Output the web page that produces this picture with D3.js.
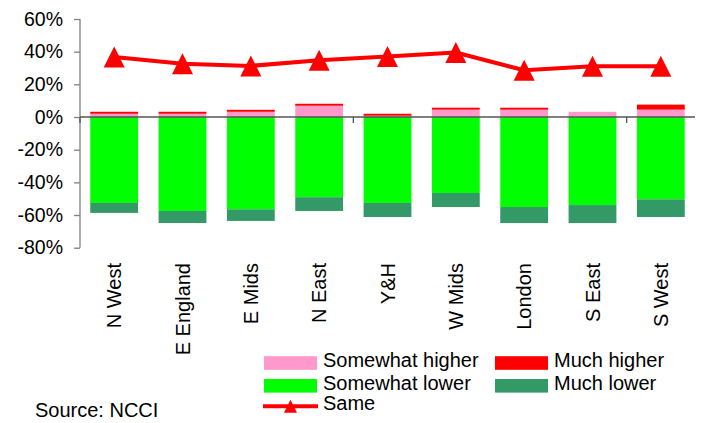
<!DOCTYPE html>
<html>
<head>
<meta charset="utf-8">
<script src="https://cdn.jsdelivr.net/npm/d3@7"></script>
<style>
html,body{margin:0;padding:0;background:#fff;}
svg{display:block;font-family:"Liberation Sans",Arial,sans-serif;}
</style>
</head>
<body>
<svg id="chart" width="701" height="423"></svg>
<script>
const categories = ["N West","E England","E Mids","N East","Y&H","W Mids","London","S East","S West"];
const somewhatHigher = [2.0, 2.0, 3.2, 6.9, 0.8, 4.5, 4.5, 3.2, 4.5];
const muchHigher     = [1.2, 1.2, 1.2, 1.2, 1.2, 1.2, 1.2, 0.0, 3.1];
const somewhatLower  = [-52.6, -57.5, -56.5, -49.1, -52.6, -46.5, -55.1, -53.9, -50.4];
const muchLower      = [-6.1, -7.4, -7.1, -8.4, -8.6, -8.6, -9.8, -11.0, -10.8];
const same           = [36.7, 32.6, 31.3, 34.7, 37.1, 39.5, 28.6, 31.1, 31.1];
const yTicks = [60, 40, 20, 0, -20, -40, -60, -80];
const seriesNames = ["Somewhat higher","Much higher","Somewhat lower","Much lower","Same"];
const colors = {"Somewhat higher":"#FF99CC","Much higher":"#FF0000","Somewhat lower":"#00FF00","Much lower":"#339966","Same":"#FF0000"};

const svg = d3.select("#chart");
const x = d3.scaleBand().domain(categories).range([80, 695]).paddingInner(0.3).paddingOuter(0.15);
const y = d3.scaleLinear().domain([-80, 60]).range([247.7, 19]);

// bars
const g = svg.append("g");
categories.forEach((c, i) => {
  const segs = [
    {name:"Somewhat higher", y0:0, y1:somewhatHigher[i]},
    {name:"Much higher", y0:somewhatHigher[i], y1:somewhatHigher[i]+muchHigher[i]},
    {name:"Somewhat lower", y0:0, y1:somewhatLower[i]},
    {name:"Much lower", y0:somewhatLower[i], y1:somewhatLower[i]+muchLower[i]}
  ];
  segs.forEach(s => {
    if (s.y0 === s.y1) return;
    g.append("rect")
      .attr("x", x(c)).attr("width", x.bandwidth())
      .attr("y", y(Math.max(s.y0, s.y1)))
      .attr("height", Math.abs(y(s.y0) - y(s.y1)))
      .attr("fill", colors[s.name]);
  });
});

// y axis
const yAxis = d3.axisLeft(y).tickValues(yTicks).tickSize(6).tickFormat(d => d + "%");
const ya = svg.append("g").attr("transform", "translate(80,0)").call(yAxis);
ya.select(".domain").attr("stroke", "#808080").attr("stroke-width", 1.3).attr("d", `M0,${y(60)}V${y(-80)}`);
ya.selectAll(".tick line").attr("stroke", "#808080").attr("stroke-width", 1.3);
ya.selectAll(".tick text").attr("x", -17).attr("font-size", "19.5px").attr("fill", "#000")
  .attr("font-family", '"Liberation Sans",Arial,sans-serif');

// zero line (category axis)
svg.append("line").attr("x1", 80).attr("x2", 695).attr("y1", y(0)).attr("y2", y(0))
  .attr("stroke", "#555").attr("stroke-width", 1.5);
[0, 4, 8].forEach(k => {
  const xx = 80 + k * x.step();
  svg.append("line").attr("x1", xx).attr("x2", xx).attr("y1", y(0)).attr("y2", y(0) + 6)
    .attr("stroke", "#555").attr("stroke-width", 1.3);
});

// category labels
categories.forEach(c => {
  const cx = x(c) + x.bandwidth() / 2;
  svg.append("text")
    .attr("transform", `translate(${cx + 7},263) rotate(-90)`)
    .attr("text-anchor", "end")
    .attr("font-size", "20px")
    .attr("fill", "#000")
    .text(c);
});

// Same line
const line = d3.line().x((d, i) => x(categories[i]) + x.bandwidth() / 2).y(d => y(d));
svg.append("path").datum(same).attr("d", line).attr("fill", "none")
  .attr("stroke", colors["Same"]).attr("stroke-width", 4).attr("stroke-linejoin", "round");
const tri = (cx, cy, w, h) => `M${cx},${cy - h/2}L${cx + w/2},${cy + h/2}L${cx - w/2},${cy + h/2}Z`;
same.forEach((v, i) => {
  svg.append("path").attr("d", tri(x(categories[i]) + x.bandwidth() / 2, y(v), 21, 21))
    .attr("fill", colors["Same"]);
});

// legend
const leg = svg.append("g");
const legItems = [
  {name:seriesNames[0], sx:264, cy:363, type:"rect"},
  {name:seriesNames[1], sx:495, cy:363, type:"rect"},
  {name:seriesNames[2], sx:264, cy:385.8, type:"rect"},
  {name:seriesNames[3], sx:495, cy:385.8, type:"rect"},
  {name:seriesNames[4], sx:264, cy:406.3, type:"line"}
];
legItems.forEach(it => {
  if (it.type === "rect") {
    leg.append("rect").attr("x", it.sx).attr("y", it.cy - 6.8).attr("width", 53).attr("height", 13.6)
      .attr("fill", colors[it.name]);
  } else {
    leg.append("line").attr("x1", it.sx - 1).attr("x2", it.sx + 54).attr("y1", it.cy).attr("y2", it.cy)
      .attr("stroke", colors[it.name]).attr("stroke-width", 4);
    leg.append("path").attr("d", tri(it.sx + 26.5, it.cy, 13, 13)).attr("fill", colors[it.name]);
  }
  leg.append("text").attr("x", it.sx + 59).attr("y", it.cy + 3.8).attr("font-size", "20px")
    .attr("fill", "#000").text(it.name);
});

svg.append("text").attr("x", 35).attr("y", 417).attr("font-size", "20px").attr("fill", "#000").text("Source: NCCI");
</script>
</body>
</html>
